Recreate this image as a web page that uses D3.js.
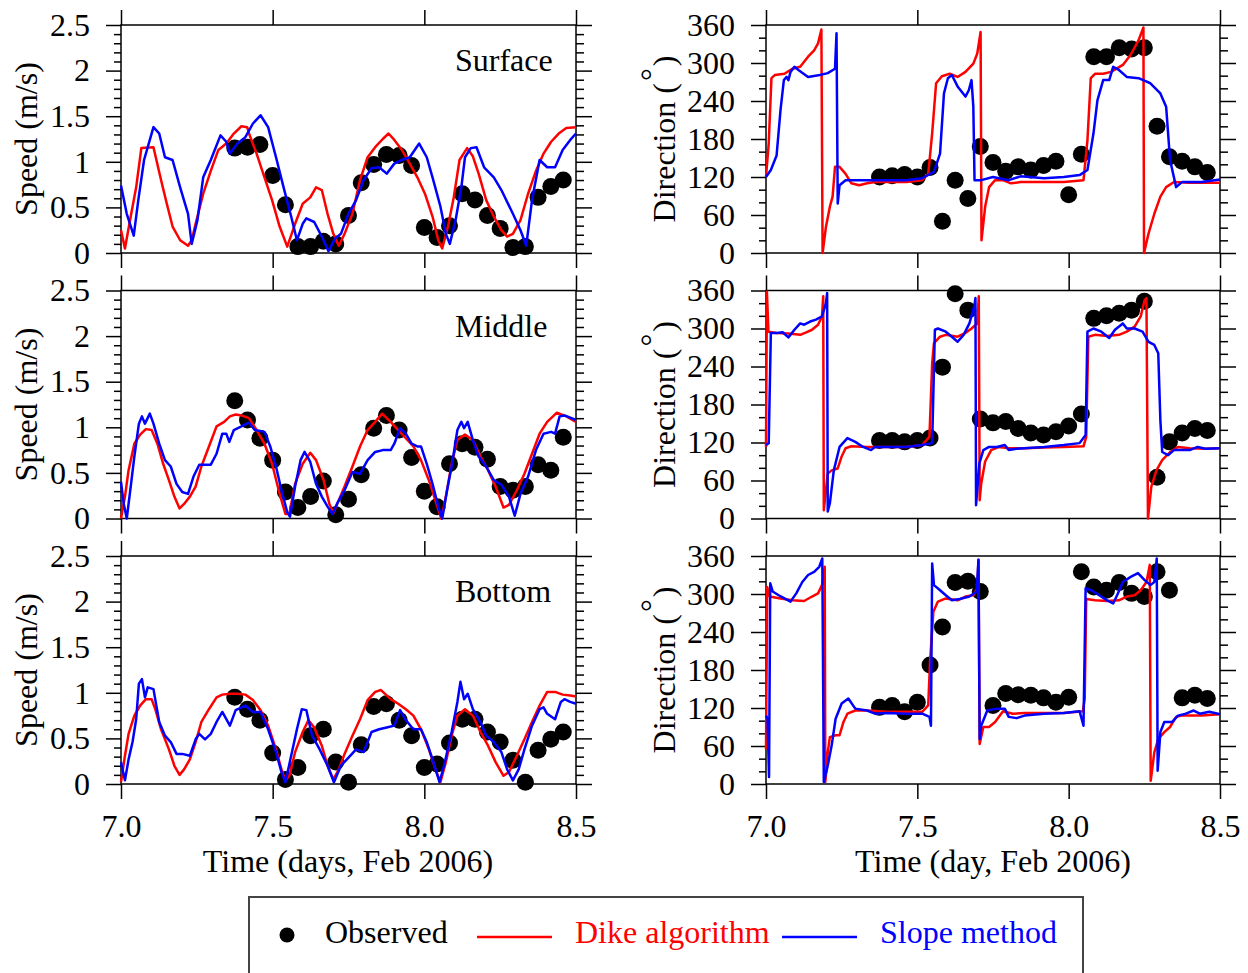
<!DOCTYPE html>
<html>
<head>
<meta charset="utf-8">
<script src="https://cdn.jsdelivr.net/npm/d3@7"></script>
<style>
body { margin: 0; background: #fff; }
svg { font-family: "Liberation Serif", "Times New Roman", serif; }
.axis text { font-size: 32px; fill: #000; font-family: "Liberation Serif", "Times New Roman", serif; }
.axis path { display: none; }
.axis line { stroke: #000; stroke-width: 1.5px; }
</style>
</head>
<body>
<script>
// tick labels
var timeTicks = [7.0, 7.5, 8.0, 8.5];
var speedTicks = [0, 0.5, 1, 1.5, 2, 2.5];
var dirTicks = [0, 60, 120, 180, 240, 300, 360];
var layers = ["Surface", "Middle", "Bottom"];

// observed, hourly
var obsTime = [7.375, 7.417, 7.458, 7.500, 7.542, 7.583, 7.625, 7.667, 7.708, 7.750, 7.792, 7.833, 7.875, 7.917,
               7.958, 8.000, 8.042, 8.083, 8.125, 8.167, 8.208, 8.250, 8.292, 8.333, 8.375, 8.417, 8.458];
var surfSpdObs = [1.15,1.16,1.19,0.85,0.53,0.07,0.07,0.13,0.10,0.41,0.77,0.97,1.08,1.07,0.96,0.28,0.17,0.30,0.65,0.58,0.41,0.27,0.06,0.07,0.61,0.73,0.80];
var midSpdObs = [1.29,1.08,0.88,0.64,0.29,0.12,0.24,0.41,0.04,0.21,0.48,0.99,1.13,0.97,0.67,0.30,0.13,0.60,0.82,0.78,0.65,0.35,0.31,0.35,0.59,0.53,0.89];
var botSpdObs = [0.95,0.82,0.70,0.34,0.05,0.18,0.53,0.60,0.24,0.02,0.43,0.85,0.88,0.70,0.53,0.18,0.22,0.45,0.71,0.71,0.57,0.46,0.26,0.02,0.37,0.49,0.57];
var surfDirObs = [120,122,124,120,135,50,115,86,168,143,129,136,131,138,145,92,156,310,310,324,322,324,200,152,145,136,127];
var midDirObs = [123,123,121,123,127,239,355,329,157,151,153,142,135,132,137,146,165,316,320,324,329,343,65,121,135,142,139];
var botDirObs = [121,124,114,129,188,248,318,320,304,124,143,141,140,136,129,137,335,311,306,318,301,296,335,306,136,140,135];

// model series, [time, value]
var surfSpdDike = [[7.000,0.25],[7.013,0.05],[7.032,0.40],[7.050,0.72],[7.067,1.15],[7.107,1.16],[7.132,0.80],[7.151,0.54],[7.170,0.29],[7.195,0.14],[7.221,0.08],[7.233,0.14],[7.246,0.32],[7.271,0.65],[7.296,0.90],[7.321,1.13],[7.347,1.20],[7.372,1.31],[7.397,1.39],[7.416,1.38],[7.422,1.31],[7.447,1.09],[7.473,0.83],[7.498,0.58],[7.523,0.29],[7.548,0.07],[7.574,0.32],[7.599,0.54],[7.624,0.61],[7.643,0.72],[7.662,0.69],[7.681,0.43],[7.700,0.21],[7.718,0.08],[7.737,0.21],[7.763,0.43],[7.788,0.80],[7.813,1.05],[7.838,1.16],[7.863,1.25],[7.882,1.31],[7.901,1.24],[7.926,1.13],[7.952,0.98],[7.977,0.83],[8.002,0.65],[8.027,0.40],[8.046,0.14],[8.059,0.05],[8.078,0.29],[8.097,0.61],[8.116,1.02],[8.141,1.15],[8.160,1.06],[8.179,0.87],[8.204,0.58],[8.229,0.40],[8.254,0.25],[8.273,0.18],[8.292,0.21],[8.317,0.36],[8.342,0.65],[8.368,0.90],[8.393,1.09],[8.418,1.22],[8.443,1.31],[8.468,1.37],[8.500,1.38]];
var surfSpdSlope = [[7.000,0.74],[7.019,0.43],[7.042,0.19],[7.057,0.58],[7.076,1.02],[7.095,1.24],[7.107,1.38],[7.126,1.31],[7.145,1.05],[7.170,1.02],[7.195,0.72],[7.221,0.43],[7.233,0.10],[7.252,0.36],[7.271,0.83],[7.296,1.02],[7.328,1.29],[7.347,1.22],[7.359,1.09],[7.384,1.20],[7.410,1.27],[7.435,1.42],[7.460,1.51],[7.485,1.38],[7.511,1.05],[7.536,0.72],[7.561,0.40],[7.580,0.14],[7.599,0.32],[7.611,0.38],[7.637,0.34],[7.662,0.18],[7.684,0.02],[7.706,0.16],[7.725,0.21],[7.750,0.43],[7.775,0.58],[7.800,0.80],[7.826,0.93],[7.851,0.94],[7.876,0.87],[7.901,0.98],[7.926,1.02],[7.952,1.05],[7.983,1.20],[8.008,1.05],[8.027,0.83],[8.053,0.51],[8.071,0.21],[8.084,0.10],[8.103,0.36],[8.122,0.72],[8.134,1.05],[8.153,1.15],[8.172,1.16],[8.197,0.94],[8.229,0.83],[8.254,0.69],[8.292,0.43],[8.317,0.25],[8.336,0.08],[8.355,0.58],[8.380,1.02],[8.405,0.94],[8.431,0.94],[8.456,1.13],[8.481,1.24],[8.500,1.31]];
var midSpdDike = [[7.000,0.00],[7.013,0.24],[7.025,0.53],[7.044,0.82],[7.063,0.92],[7.082,0.98],[7.101,0.97],[7.120,0.82],[7.139,0.60],[7.158,0.42],[7.176,0.24],[7.193,0.11],[7.208,0.16],[7.227,0.24],[7.246,0.35],[7.265,0.57],[7.290,0.79],[7.315,1.01],[7.340,1.06],[7.359,1.12],[7.378,1.14],[7.397,1.13],[7.422,1.10],[7.447,0.97],[7.473,0.82],[7.498,0.60],[7.523,0.27],[7.542,0.05],[7.555,0.05],[7.574,0.38],[7.599,0.60],[7.624,0.72],[7.643,0.64],[7.668,0.42],[7.687,0.16],[7.700,0.06],[7.718,0.20],[7.737,0.35],[7.763,0.57],[7.788,0.79],[7.813,0.97],[7.838,1.06],[7.861,1.15],[7.889,1.06],[7.914,0.97],[7.939,0.88],[7.964,0.79],[7.989,0.64],[8.015,0.42],[8.040,0.16],[8.056,0.00],[8.071,0.24],[8.090,0.60],[8.109,0.86],[8.134,0.92],[8.160,0.86],[8.185,0.68],[8.210,0.53],[8.235,0.35],[8.261,0.12],[8.279,0.15],[8.305,0.31],[8.330,0.49],[8.355,0.71],[8.380,0.93],[8.405,1.06],[8.437,1.16],[8.468,1.12],[8.500,1.06]];
var midSpdSlope = [[7.000,0.40],[7.009,0.16],[7.019,0.00],[7.032,0.35],[7.044,0.68],[7.059,1.04],[7.069,1.12],[7.079,1.04],[7.095,1.15],[7.107,1.04],[7.126,0.82],[7.145,0.64],[7.164,0.57],[7.183,0.38],[7.202,0.29],[7.221,0.27],[7.239,0.46],[7.258,0.59],[7.277,0.59],[7.296,0.59],[7.315,0.71],[7.334,0.93],[7.347,0.93],[7.357,0.84],[7.372,0.97],[7.397,1.01],[7.422,1.05],[7.441,0.97],[7.473,0.95],[7.492,0.79],[7.511,0.57],[7.529,0.31],[7.548,0.07],[7.557,0.02],[7.574,0.35],[7.592,0.64],[7.605,0.73],[7.624,0.62],[7.643,0.38],[7.662,0.24],[7.681,0.13],[7.697,0.05],[7.712,0.16],[7.737,0.31],[7.763,0.51],[7.788,0.49],[7.813,0.64],[7.838,0.73],[7.863,0.75],[7.889,0.75],[7.901,0.82],[7.920,0.99],[7.939,0.93],[7.958,0.82],[7.977,0.79],[7.989,0.79],[8.008,0.60],[8.027,0.38],[8.046,0.13],[8.059,0.00],[8.075,0.31],[8.090,0.57],[8.109,0.97],[8.122,1.06],[8.131,0.99],[8.143,1.06],[8.160,0.86],[8.179,0.68],[8.204,0.57],[8.229,0.42],[8.254,0.37],[8.279,0.24],[8.298,0.03],[8.317,0.27],[8.342,0.46],[8.368,0.75],[8.393,0.93],[8.418,0.95],[8.431,0.93],[8.446,1.12],[8.462,1.13],[8.500,1.08]];
var botSpdDike = [[7.000,0.02],[7.013,0.31],[7.025,0.55],[7.044,0.75],[7.063,0.86],[7.082,0.93],[7.101,0.93],[7.113,0.82],[7.132,0.60],[7.158,0.38],[7.176,0.20],[7.193,0.10],[7.208,0.16],[7.227,0.27],[7.246,0.46],[7.265,0.68],[7.290,0.82],[7.315,0.95],[7.334,0.98],[7.359,0.99],[7.384,0.99],[7.410,0.98],[7.435,0.92],[7.460,0.81],[7.485,0.64],[7.511,0.38],[7.529,0.16],[7.542,0.04],[7.555,0.09],[7.574,0.35],[7.599,0.57],[7.618,0.70],[7.637,0.62],[7.662,0.42],[7.681,0.20],[7.700,0.05],[7.718,0.16],[7.737,0.33],[7.763,0.53],[7.788,0.71],[7.813,0.92],[7.838,1.01],[7.857,1.03],[7.889,0.93],[7.914,0.88],[7.939,0.82],[7.964,0.75],[7.989,0.60],[8.015,0.38],[8.040,0.13],[8.053,0.02],[8.071,0.24],[8.090,0.53],[8.109,0.75],[8.134,0.82],[8.160,0.75],[8.185,0.57],[8.210,0.42],[8.235,0.24],[8.261,0.09],[8.279,0.13],[8.305,0.31],[8.330,0.49],[8.355,0.68],[8.380,0.86],[8.405,1.01],[8.431,1.01],[8.456,0.98],[8.481,0.97],[8.500,0.96]];
var botSpdSlope = [[7.000,0.24],[7.013,0.04],[7.025,0.27],[7.038,0.46],[7.050,0.71],[7.059,1.10],[7.069,1.15],[7.079,0.95],[7.088,1.06],[7.107,1.04],[7.126,0.68],[7.145,0.53],[7.164,0.46],[7.183,0.33],[7.202,0.33],[7.227,0.31],[7.246,0.49],[7.258,0.55],[7.277,0.49],[7.296,0.55],[7.315,0.68],[7.334,0.79],[7.359,0.64],[7.378,0.81],[7.410,0.86],[7.435,0.79],[7.460,0.79],[7.485,0.60],[7.511,0.35],[7.529,0.13],[7.542,0.02],[7.561,0.31],[7.580,0.60],[7.596,0.82],[7.611,0.81],[7.630,0.53],[7.655,0.38],[7.681,0.20],[7.702,0.02],[7.725,0.20],[7.750,0.29],[7.775,0.38],[7.800,0.35],[7.826,0.57],[7.851,0.60],[7.876,0.62],[7.901,0.64],[7.920,0.81],[7.939,0.70],[7.964,0.60],[7.989,0.60],[8.008,0.46],[8.027,0.27],[8.050,0.02],[8.065,0.20],[8.090,0.57],[8.109,0.90],[8.119,1.12],[8.131,0.93],[8.143,0.99],[8.160,0.82],[8.185,0.68],[8.204,0.53],[8.229,0.46],[8.254,0.35],[8.273,0.16],[8.292,0.04],[8.311,0.16],[8.330,0.38],[8.355,0.64],[8.380,0.82],[8.393,0.84],[8.405,0.77],[8.431,0.71],[8.450,0.90],[8.462,0.93],[8.481,0.90],[8.500,0.88]];

var surfDirDike = [[7.000,120],[7.009,173],[7.018,276],[7.029,281],[7.061,283],[7.087,291],[7.113,294],[7.139,310],[7.159,320],[7.172,331],[7.183,353],[7.187,0],[7.198,41],[7.211,73],[7.220,89],[7.228,136],[7.243,136],[7.263,125],[7.282,110],[7.308,107],[7.334,110],[7.360,112],[7.399,112],[7.464,112],[7.516,115],[7.536,125],[7.549,189],[7.562,268],[7.581,279],[7.607,283],[7.633,278],[7.659,286],[7.685,299],[7.698,315],[7.709,349],[7.712,20],[7.724,73],[7.737,104],[7.757,115],[7.783,115],[7.809,110],[7.841,112],[7.919,112],[7.984,112],[8.049,115],[8.062,178],[8.073,276],[8.087,283],[8.114,283],[8.140,286],[8.179,297],[8.205,313],[8.231,336],[8.247,356],[8.249,0],[8.264,31],[8.283,62],[8.303,89],[8.322,104],[8.348,112],[8.400,111],[8.500,111]];
var surfDirSlope = [[7.000,120],[7.016,131],[7.035,154],[7.048,226],[7.059,273],[7.068,278],[7.074,273],[7.081,286],[7.094,294],[7.107,289],[7.139,278],[7.178,281],[7.204,284],[7.228,291],[7.233,347],[7.237,78],[7.243,107],[7.263,115],[7.334,115],[7.399,115],[7.464,115],[7.516,118],[7.555,128],[7.575,157],[7.588,252],[7.601,276],[7.614,281],[7.633,263],[7.659,247],[7.670,257],[7.679,273],[7.685,231],[7.689,115],[7.711,115],[7.750,120],[7.802,115],[7.841,121],[7.919,118],[7.984,120],[8.036,123],[8.062,131],[8.082,189],[8.095,241],[8.114,273],[8.134,273],[8.147,294],[8.166,289],[8.192,278],[8.231,276],[8.270,268],[8.303,252],[8.322,231],[8.335,147],[8.355,104],[8.374,112],[8.400,112],[8.439,112],[8.500,116]];
var midDirDike = [[7.000,113],[7.003,358],[7.008,295],[7.035,293],[7.074,292],[7.113,290],[7.133,294],[7.152,298],[7.172,306],[7.185,319],[7.189,351],[7.191,13],[7.204,71],[7.217,76],[7.237,79],[7.250,98],[7.263,111],[7.282,114],[7.334,113],[7.399,113],[7.464,113],[7.516,116],[7.540,129],[7.549,245],[7.555,277],[7.575,287],[7.594,290],[7.633,287],[7.659,293],[7.679,300],[7.698,308],[7.703,351],[7.706,29],[7.711,55],[7.724,90],[7.744,108],[7.770,113],[7.802,111],[7.854,111],[7.919,112],[7.984,113],[8.049,114],[8.058,129],[8.065,287],[8.087,290],[8.127,288],[8.166,290],[8.192,295],[8.218,303],[8.238,319],[8.251,345],[8.257,348],[8.262,0],[8.273,50],[8.290,76],[8.309,92],[8.335,105],[8.361,113],[8.400,111],[8.452,110],[8.500,111]];
var midDirSlope = [[7.000,116],[7.009,119],[7.016,293],[7.035,293],[7.055,294],[7.074,286],[7.094,298],[7.113,308],[7.126,306],[7.146,311],[7.165,314],[7.185,319],[7.198,340],[7.202,356],[7.204,11],[7.211,24],[7.224,76],[7.243,113],[7.269,127],[7.295,121],[7.321,113],[7.347,108],[7.360,113],[7.399,113],[7.464,113],[7.516,116],[7.549,119],[7.558,298],[7.568,300],[7.594,295],[7.614,287],[7.633,279],[7.653,290],[7.672,308],[7.688,335],[7.692,348],[7.694,21],[7.705,87],[7.718,108],[7.737,113],[7.763,113],[7.789,116],[7.802,108],[7.828,110],[7.854,111],[7.919,113],[7.984,116],[8.036,119],[8.056,132],[8.062,295],[8.082,300],[8.108,295],[8.134,285],[8.153,298],[8.179,308],[8.192,300],[8.218,300],[8.244,295],[8.264,279],[8.283,274],[8.296,261],[8.303,155],[8.309,105],[8.329,100],[8.348,108],[8.400,108],[8.426,113],[8.452,110],[8.500,111]];
var botDirDike = [[7.000,55],[7.004,311],[7.012,296],[7.048,293],[7.087,290],[7.126,289],[7.152,296],[7.172,301],[7.185,314],[7.194,343],[7.196,3],[7.204,50],[7.211,74],[7.230,77],[7.243,77],[7.256,98],[7.269,111],[7.295,116],[7.334,116],[7.399,114],[7.464,114],[7.516,114],[7.536,124],[7.542,193],[7.553,272],[7.568,288],[7.594,293],[7.633,290],[7.659,296],[7.685,298],[7.698,309],[7.702,354],[7.706,63],[7.718,90],[7.737,90],[7.757,98],[7.783,115],[7.815,111],[7.854,112],[7.919,112],[7.984,112],[8.047,115],[8.053,135],[8.058,292],[8.087,290],[8.127,289],[8.166,290],[8.192,296],[8.218,298],[8.238,306],[8.257,319],[8.268,346],[8.271,5],[8.283,50],[8.296,71],[8.316,82],[8.335,90],[8.355,106],[8.374,108],[8.439,108],[8.500,110]];
var botDirSlope = [[7.000,108],[7.005,103],[7.010,11],[7.014,317],[7.022,304],[7.042,298],[7.061,293],[7.081,288],[7.100,301],[7.120,319],[7.139,330],[7.159,335],[7.176,343],[7.186,356],[7.191,3],[7.204,29],[7.217,61],[7.230,103],[7.250,127],[7.272,135],[7.295,119],[7.334,116],[7.360,111],[7.399,112],[7.464,111],[7.516,111],[7.540,106],[7.545,92],[7.549,348],[7.555,314],[7.575,306],[7.594,298],[7.614,290],[7.640,292],[7.672,296],[7.696,304],[7.702,354],[7.706,71],[7.711,92],[7.731,116],[7.763,119],[7.789,119],[7.802,106],[7.828,104],[7.854,108],[7.919,111],[7.984,112],[8.036,115],[8.049,92],[8.056,309],[8.075,306],[8.101,298],[8.127,290],[8.147,285],[8.160,298],[8.179,319],[8.205,327],[8.229,333],[8.251,322],[8.270,314],[8.283,319],[8.291,356],[8.294,21],[8.303,82],[8.316,98],[8.342,98],[8.361,108],[8.387,111],[8.413,116],[8.433,111],[8.465,114],[8.500,110]];

var svg = d3.select("body").append("svg")
    .attr("width", 1248)
    .attr("height", 973);

var rowTop = [25, 290.5, 556];
var plotH = 228;
var colRange = [[121, 576], [766, 1220]];

function drawPanel(col, row, obs, dike, slope)
{
    var top = rowTop[row];
    var x = d3.scaleLinear().domain([7, 8.5]).range(colRange[col]);
    var isSpeed = col == 0;
    var y = d3.scaleLinear()
        .domain(isSpeed ? [0, 2.5] : [0, 360])
        .range([top + plotH, top]);
    var major = isSpeed ? speedTicks : dirTicks;
    var minor = y.ticks(isSpeed ? 25 : 18).filter(function(v) { return major.indexOf(v) < 0; });
    var x0 = colRange[col][0], x1 = colRange[col][1];

    var g = svg.append("g");

    g.append("g").attr("class", "axis")
        .attr("transform", "translate(" + x0 + ",0)")
        .call(d3.axisLeft(y).tickValues(major).tickSize(15).tickPadding(16).tickFormat(d3.format("")));
    g.append("g").attr("class", "axis")
        .attr("transform", "translate(" + x0 + ",0)")
        .call(d3.axisLeft(y).tickValues(minor).tickSize(7).tickFormat(""));
    g.append("g").attr("class", "axis")
        .attr("transform", "translate(" + x1 + ",0)")
        .call(d3.axisRight(y).tickValues(major).tickSize(16).tickFormat(""));
    g.append("g").attr("class", "axis")
        .attr("transform", "translate(" + x1 + ",0)")
        .call(d3.axisRight(y).tickValues(minor).tickSize(8).tickFormat(""));
    g.append("g").attr("class", "axis")
        .attr("transform", "translate(0," + top + ")")
        .call(d3.axisTop(x).tickValues(timeTicks).tickSize(15).tickFormat(""));
    g.append("g").attr("class", "axis")
        .attr("transform", "translate(0," + (top + plotH) + ")")
        .call(d3.axisBottom(x).tickValues(timeTicks).tickSize(15).tickPadding(15)
            .tickFormat(row == 2 ? d3.format(".1f") : ""));

    g.append("rect")
        .attr("x", x0).attr("y", top)
        .attr("width", x1 - x0).attr("height", plotH)
        .attr("fill", "none").attr("stroke", "#000").attr("stroke-width", 1.5);

    // y title
    var cy = top + plotH / 2;
    if (isSpeed)
    {
        g.append("text")
            .attr("transform", "translate(37," + cy + ") rotate(-90)")
            .attr("text-anchor", "middle")
            .attr("font-size", 32)
            .text("Speed (m/s)");
        g.append("text")
            .attr("x", 455).attr("y", top + 46)
            .attr("font-size", 32)
            .text(layers[row]);
    }
    else
    {
        var t = g.append("text")
            .attr("transform", "translate(675," + cy + ") rotate(-90)")
            .attr("text-anchor", "middle")
            .attr("font-size", 32);
        t.append("tspan").text("Direction (");
        t.append("tspan").attr("dy", -12).attr("dx", 2).text("\u00b0");
        t.append("tspan").attr("dy", 12).attr("dx", 2).text(")");
    }

    g.selectAll(".obs")
        .data(obs)
        .enter().append("circle")
        .attr("cx", function(d, i) { return x(obsTime[i]); })
        .attr("cy", function(d) { return y(d); })
        .attr("r", 8.5)
        .attr("fill", "#000");

    var line = d3.line()
        .x(function(d) { return x(d[0]); })
        .y(function(d) { return y(d[1]); });

    g.append("path").datum(dike)
        .attr("d", line)
        .attr("fill", "none").attr("stroke", "#ff0000").attr("stroke-width", 2.5)
        .attr("stroke-linejoin", "round");
    g.append("path").datum(slope)
        .attr("d", line)
        .attr("fill", "none").attr("stroke", "#0000ff").attr("stroke-width", 2.5)
        .attr("stroke-linejoin", "round");
}

drawPanel(0, 0, surfSpdObs, surfSpdDike, surfSpdSlope);
drawPanel(0, 1, midSpdObs, midSpdDike, midSpdSlope);
drawPanel(0, 2, botSpdObs, botSpdDike, botSpdSlope);
drawPanel(1, 0, surfDirObs, surfDirDike, surfDirSlope);
drawPanel(1, 1, midDirObs, midDirDike, midDirSlope);
drawPanel(1, 2, botDirObs, botDirDike, botDirSlope);

// x titles
svg.append("text")
    .attr("x", 348).attr("y", 872)
    .attr("text-anchor", "middle").attr("font-size", 32)
    .text("Time (days, Feb 2006)");
svg.append("text")
    .attr("x", 993).attr("y", 872)
    .attr("text-anchor", "middle").attr("font-size", 32)
    .text("Time (day, Feb 2006)");

// legend
var legend = svg.append("g");
legend.append("rect")
    .attr("x", 249).attr("y", 897)
    .attr("width", 834).attr("height", 100)
    .attr("fill", "none").attr("stroke", "#444").attr("stroke-width", 2);
legend.append("circle")
    .attr("cx", 287).attr("cy", 935).attr("r", 7.5).attr("fill", "#000");
legend.append("text")
    .attr("x", 325).attr("y", 943).attr("font-size", 32)
    .text("Observed");
legend.append("line")
    .attr("x1", 477).attr("x2", 552).attr("y1", 937).attr("y2", 937)
    .attr("stroke", "#ff0000").attr("stroke-width", 2.5);
legend.append("text")
    .attr("x", 575).attr("y", 943).attr("font-size", 32).attr("fill", "#ff0000")
    .text("Dike algorithm");
legend.append("line")
    .attr("x1", 782).attr("x2", 857).attr("y1", 937).attr("y2", 937)
    .attr("stroke", "#0000ff").attr("stroke-width", 2.5);
legend.append("text")
    .attr("x", 880).attr("y", 943).attr("font-size", 32).attr("fill", "#0000ff")
    .text("Slope method");
</script>
</body>
</html>
